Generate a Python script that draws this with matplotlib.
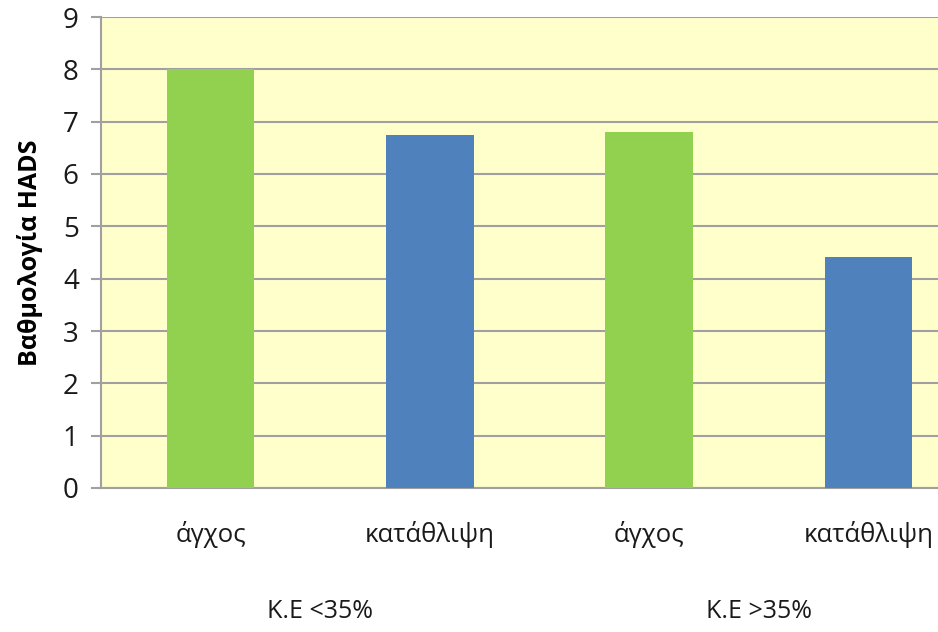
import matplotlib
matplotlib.use("Agg")
import matplotlib.pyplot as plt
import numpy as np

# HADS scores by ejection-fraction group
groups = ["Κ.Ε <35%", "Κ.Ε >35%"]
measures = ["άγχος", "κατάθλιψη"]
scores = [8.0, 6.75, 6.8, 4.42]
bar_colors = ["#92D050", "#4F81BD", "#92D050", "#4F81BD"]

plt.rcParams["font.family"] = ["Open Sans", "DejaVu Sans"]

fig = plt.figure(figsize=(9.38, 6.32), dpi=100)
# plot area runs past the right edge of the canvas
ax = fig.add_axes([101 / 938, 1 - 488 / 632, 877 / 938, 471 / 632])
ax.set_facecolor("#FFFFCC")

x = np.arange(len(scores))
ax.bar(x, scores, width=0.40, color=bar_colors, zorder=3)

ax.set_xlim(-0.5, len(scores) - 0.5)
ax.set_ylim(0, 9)
ax.set_yticks(range(0, 10))
ax.yaxis.grid(True, color="#A0A0A0", linewidth=1.5, zorder=1)
ax.set_axisbelow(True)

for side in ["top", "right"]:
    ax.spines[side].set_visible(False)
for side in ["left", "bottom"]:
    ax.spines[side].set_color("#A0A0A0")
    ax.spines[side].set_linewidth(1.5)

ax.tick_params(axis="y", length=7, color="#A0A0A0", width=1.5, labelsize=20,
               labelcolor="#1A1A1A", pad=9)
ax.set_xticks(x)
ax.set_xticklabels(measures * len(groups), fontsize=18.5, color="#1A1A1A")
ax.tick_params(axis="x", length=0, pad=24)

# group labels under each pair of bars
for i, g in enumerate(groups):
    ax.text(2 * i + 0.5, -0.263, g, transform=ax.get_xaxis_transform(),
            ha="center", va="center", fontsize=18, color="#1A1A1A")

ax.set_ylabel("Βαθμολογία HADS", fontsize=18, fontweight="bold", labelpad=14)

fig.savefig("out.png", dpi=100)
